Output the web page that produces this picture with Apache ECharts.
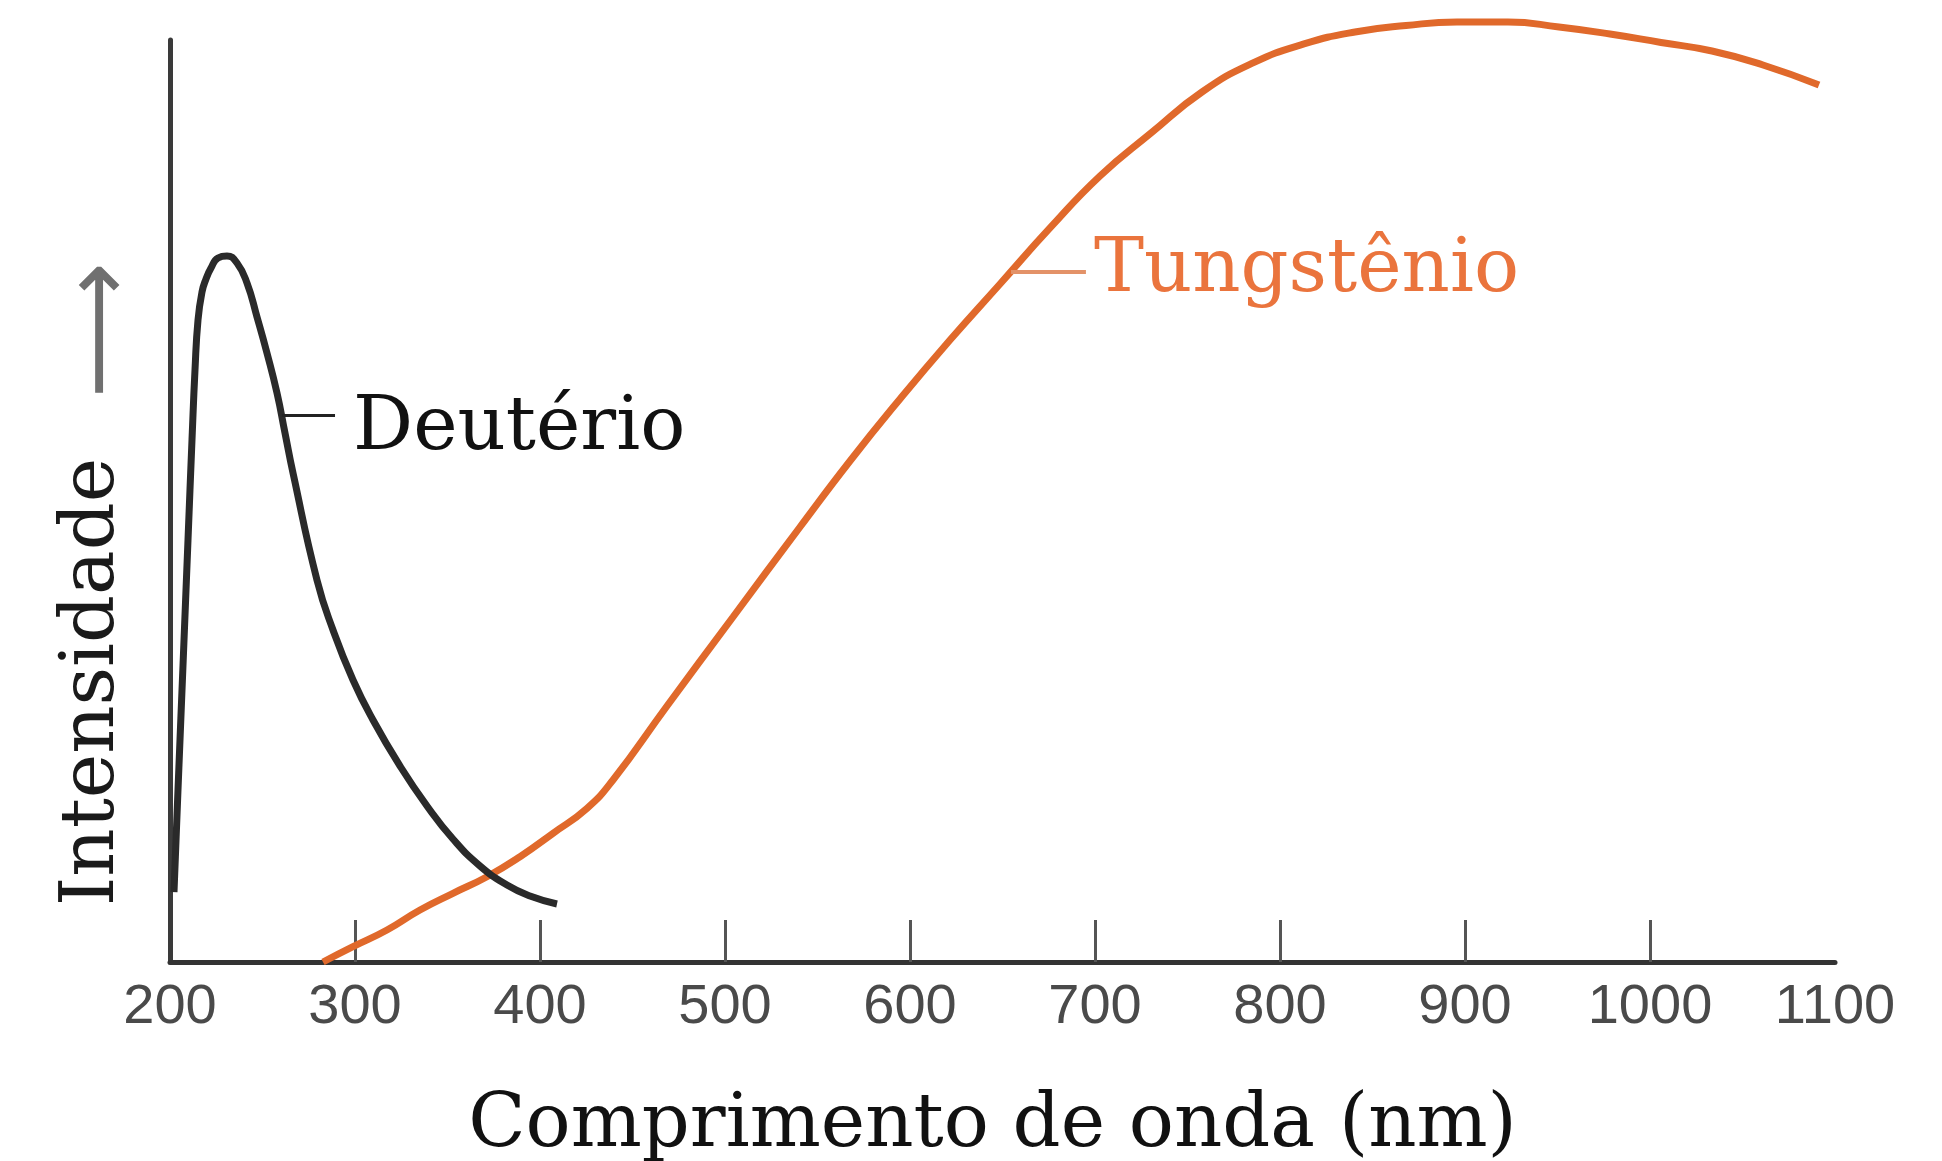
<!DOCTYPE html>
<html>
<head>
<meta charset="utf-8">
<script src="https://cdn.jsdelivr.net/npm/echarts@6/dist/echarts.min.js"></script>
<style>
html,body{margin:0;padding:0;background:#fff;}
#chart{width:1942px;height:1161px;}
</style>
</head>
<body>
<div id="chart"></div>
<script>
// Wavelength ticks (nm)
const xTicks = [200, 300, 400, 500, 600, 700, 800, 900, 1000, 1100];

// Deutério lamp spectrum (relative intensity)
const deuteriumWl = [202.16, 204.32, 207.03, 209.73, 211.89, 213.51, 215.14, 217.30, 219.46, 222.16, 225.95, 230.81, 236.22, 241.62, 247.03, 252.43, 257.84, 262.16, 266.49, 279.46, 288.11, 298.92, 309.73, 324.32, 338.92, 352.97, 367.57, 382.16, 394.59, 409.19];
const deuteriumI  = [7.59, 18.66, 32.21, 45.77, 56.62, 64.21, 69.63, 72.67, 74.08, 75.27, 76.36, 76.57, 75.81, 73.64, 69.96, 66.05, 61.71, 57.38, 53.04, 41.43, 36.01, 30.59, 26.25, 21.26, 16.92, 13.34, 10.41, 8.35, 7.16, 6.29];

// Tungstênio lamp spectrum (relative intensity)
const tungstenWl = [282.70, 298.92, 317.30, 335.14, 352.97, 371.35, 389.19, 407.03, 425.41, 439.46, 468.65, 504.32, 540.54, 567.57, 594.59, 621.62, 648.65, 675.68, 702.70, 730.27, 757.84, 785.41, 812.97, 840.54, 868.11, 895.68, 923.24, 950.81, 978.38, 1005.95, 1033.51, 1061.08, 1091.35];
const tungstenI  = [0.0, 1.66, 3.47, 5.64, 7.45, 9.25, 11.42, 13.96, 16.67, 19.74, 27.77, 37.42, 47.18, 54.34, 61.06, 67.46, 73.54, 79.61, 85.25, 89.91, 94.36, 97.51, 99.57, 100.87, 101.57, 101.95, 101.95, 101.41, 100.65, 99.73, 98.81, 97.29, 95.12];

// Curve labels: anchor on the curve [wavelength, intensity] and end of the leader line (wavelength)
const labelNames = ['Deutério', 'Tungstênio'];
const labelAnchor = [[260.4, 59.3], [654.6, 74.9]];
const labelLeaderEnd = [289.2, 695.1];

const zip = (a, b) => a.map((v, i) => [v, b[i]]);

const SERIF = '"DejaVu Serif", serif';
const chart = echarts.init(document.getElementById('chart'), null, {renderer: 'canvas'});

chart.setOption({
  animation: false,
  backgroundColor: '#ffffff',
  grid: {left: 170, right: 107, top: 40, bottom: 199, containLabel: false, outerBoundsMode: 'none'},
  xAxis: {
    type: 'value',
    min: 200, max: 1100, interval: 100,
    name: 'Comprimento de onda (nm)',
    nameLocation: 'middle',
    nameGap: 127,
    nameTextStyle: {fontFamily: SERIF, fontSize: 75, color: '#111', padding: [0, 20, 0, 0]},
    axisLine: {show: true, onZero: false, lineStyle: {color: '#333', width: 5}},
    axisTick: {show: true, inside: true, length: 42, customValues: xTicks.slice(1, -1), lineStyle: {color: '#555', width: 3}},
    axisLabel: {show: true, customValues: xTicks, formatter: v => String(v), margin: 18, fontFamily: '"Liberation Sans", Arial, sans-serif', fontSize: 56, color: '#4a4a4a'},
    splitLine: {show: false}
  },
  yAxis: {
    type: 'value',
    min: 0, max: 100,
    name: '{t|Intensidade}{a|⟶}',
    nameLocation: 'middle',
    nameGap: 18,
    nameRotate: 90,
    nameTextStyle: {
      padding: [0, 166, 0, 0],
      rich: {
        t: {fontFamily: SERIF, fontSize: 75, color: '#1a1a1a'},
        a: {fontFamily: '"DejaVu Sans", sans-serif', fontSize: 95, color: '#707070', padding: [22, 0, 0, 60]}
      }
    },
    axisLine: {show: true, onZero: false, lineStyle: {color: '#3a3a3a', width: 5}},
    axisTick: {show: false},
    axisLabel: {show: false},
    splitLine: {show: false}
  },
  series: [
    {
      name: labelNames[0],
      type: 'line',
      data: zip(deuteriumWl, deuteriumI),
      smooth: 0.5,
      showSymbol: false,
      clip: false,
      lineStyle: {color: '#2a2a2a', width: 7},
      z: 3,
      markLine: {
        silent: true,
        symbol: ['none', 'none'],
        lineStyle: {color: '#222', width: 3, type: 'solid'},
        label: {show: true, position: 'end', distance: 18, offset: [0, 14], formatter: labelNames[0], fontFamily: SERIF, fontSize: 75, color: '#111'},
        data: [[{coord: labelAnchor[0]}, {coord: [labelLeaderEnd[0], labelAnchor[0][1]]}]]
      }
    },
    {
      name: labelNames[1],
      type: 'line',
      data: zip(tungstenWl, tungstenI),
      smooth: 0.5,
      showSymbol: false,
      clip: false,
      lineStyle: {color: '#E0692B', width: 7},
      z: 2,
      markLine: {
        silent: true,
        symbol: ['none', 'none'],
        lineStyle: {color: '#E39268', width: 4, type: 'solid'},
        label: {show: true, position: 'end', distance: 8, formatter: labelNames[1], fontFamily: SERIF, fontSize: 75, color: '#EA743D'},
        data: [[{coord: labelAnchor[1]}, {coord: [labelLeaderEnd[1], labelAnchor[1][1]]}]]
      }
    }
  ]
});
</script>
</body>
</html>
